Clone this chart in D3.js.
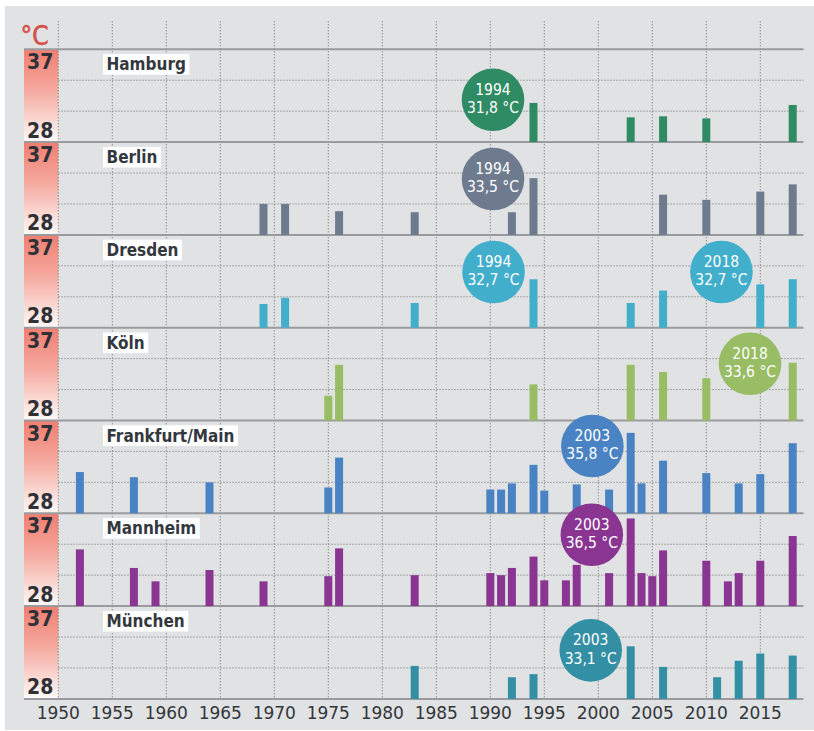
<!DOCTYPE html>
<html>
<head>
<meta charset="utf-8">
<script src="https://cdn.jsdelivr.net/npm/d3@7/dist/d3.min.js"></script>
<style>
  html, body { margin: 0; padding: 0; background: #ffffff; }
  svg { display: block; }
</style>
</head>
<body>
<svg id="chart" width="814" height="731"></svg>
<script>
// Hottest days per year (°C) for seven German cities, years with at least ~30 °C
const cities = ["Hamburg", "Berlin", "Dresden", "Köln", "Frankfurt/Main", "Mannheim", "München"];

const hamburgYears = [1994, 2003, 2006, 2010, 2018];
const hamburgTemps = [31.8, 30.4, 30.5, 30.3, 31.6];

const berlinYears = [1969, 1971, 1976, 1983, 1992, 1994, 2006, 2010, 2015, 2018];
const berlinTemps = [31.0, 31.0, 30.3, 30.2, 30.2, 33.5, 31.9, 31.4, 32.2, 32.9];

const dresdenYears = [1969, 1971, 1983, 1994, 2003, 2006, 2015, 2018];
const dresdenTemps = [30.3, 30.9, 30.4, 32.7, 30.4, 31.6, 32.2, 32.7];

const koelnYears = [1975, 1976, 1994, 2003, 2006, 2010, 2018];
const koelnTemps = [30.4, 33.4, 31.5, 33.4, 32.7, 32.1, 33.6];

const frankfurtYears = [1952, 1957, 1964, 1975, 1976, 1990, 1991, 1992, 1994, 1995, 1998, 2001, 2003, 2004, 2006, 2010, 2013, 2015, 2018];
const frankfurtTemps = [32.0, 31.5, 31.0, 30.5, 33.4, 30.3, 30.3, 30.9, 32.7, 30.2, 30.8, 30.3, 35.8, 30.9, 33.1, 31.9, 30.9, 31.8, 34.8];

const mannheimYears = [1952, 1957, 1959, 1964, 1969, 1975, 1976, 1983, 1990, 1991, 1992, 1994, 1995, 1997, 1998, 2001, 2003, 2004, 2005, 2006, 2010, 2012, 2013, 2015, 2018];
const mannheimTemps = [33.5, 31.7, 30.4, 31.5, 30.4, 30.9, 33.6, 31.0, 31.2, 31.0, 31.7, 32.8, 30.5, 30.5, 32.0, 31.2, 36.5, 31.2, 30.9, 33.4, 32.4, 30.4, 31.2, 32.4, 34.8];

const muenchenYears = [1983, 1992, 1994, 2003, 2006, 2011, 2013, 2015, 2018];
const muenchenTemps = [31.2, 30.1, 30.4, 33.1, 31.1, 30.1, 31.7, 32.4, 32.2];

const cityYears = [hamburgYears, berlinYears, dresdenYears, koelnYears, frankfurtYears, mannheimYears, muenchenYears];
const cityTemps = [hamburgTemps, berlinTemps, dresdenTemps, koelnTemps, frankfurtTemps, mannheimTemps, muenchenTemps];

// Record callouts: city index, record year, record value, and where the bubble sits (year, °C)
const recordCity  = [0, 1, 2, 2, 3, 4, 5, 6];
const recordYear  = [1994, 1994, 1994, 2018, 2018, 2003, 2003, 2003];
const recordTemp  = [31.8, 33.5, 32.7, 32.7, 33.6, 35.8, 36.5, 33.1];
const bubbleYear  = [1990.25, 1990.25, 1990.3, 2011.4, 2014.05, 1999.45, 1999.4, 1999.3];
const bubbleTemp  = [32.1, 33.42, 33.4, 33.4, 33.5, 34.53, 34.92, 32.71];

const xTicks = [1950, 1955, 1960, 1965, 1970, 1975, 1980, 1985, 1990, 1995, 2000, 2005, 2010, 2015];
const yTicks = [28, 31, 34, 37];

const palette = ["#2f8b63", "#6e7b8f", "#41aecb", "#98bd64", "#4a83c3", "#8a3592", "#338fa4"];

// ---- layout ----
const svg = d3.select("#chart");
const plotLeft = 58.3, plotRight = 803.5;
const bandLeft = 24;
const firstTop = 49.3, panelH = 92.8;
const gridTop = 21;
const lastBottom = firstTop + panelH * cities.length;
const condensed = "'DejaVu Sans Condensed', 'DejaVu Sans', sans-serif";

const x = d3.scaleLinear().domain([1950, 2019]).range([plotLeft, plotRight]);
const panelY = i => d3.scaleLinear().domain([28, 37])
  .range([firstTop + panelH * (i + 1), firstTop + panelH * i]);

// background
svg.append("rect").attr("x", 5).attr("y", 6).attr("width", 809).attr("height", 724)
  .attr("fill", "#e1e2e4");

// gradient used for the temperature strip at the left of each panel
const defs = svg.append("defs");
const grad = defs.append("linearGradient").attr("id", "heat")
  .attr("x1", 0).attr("y1", 0).attr("x2", 0).attr("y2", 1);
grad.append("stop").attr("offset", "0%").attr("stop-color", "#f07d70");
grad.append("stop").attr("offset", "45%").attr("stop-color", "#f5aaa0");
grad.append("stop").attr("offset", "100%").attr("stop-color", "#fffaf8");

cities.forEach((c, i) => {
  const y = panelY(i);
  svg.append("rect").attr("x", bandLeft).attr("y", y(37))
    .attr("width", plotLeft - bandLeft).attr("height", y(28) - y(37))
    .attr("fill", "url(#heat)");
});

// vertical dotted gridlines
svg.append("g").selectAll("line").data(xTicks).join("line")
  .attr("x1", d => x(d)).attr("x2", d => x(d))
  .attr("y1", gridTop).attr("y2", lastBottom)
  .attr("stroke", "#8a8b8d").attr("stroke-width", 1)
  .attr("stroke-dasharray", "1.4,1.6");

// horizontal dotted gridlines inside each panel
cities.forEach((c, i) => {
  const y = panelY(i);
  svg.append("g").selectAll("line").data(yTicks.filter(t => t > 28 && t < 37)).join("line")
    .attr("x1", plotLeft).attr("x2", plotRight)
    .attr("y1", d => y(d)).attr("y2", d => y(d))
    .attr("stroke", "#8a8b8d").attr("stroke-width", 1)
    .attr("stroke-dasharray", "1.4,1.6");
});

// solid separators between panels
const seps = d3.range(cities.length + 1).map(i => firstTop + panelH * i);
svg.append("g").selectAll("line").data(seps).join("line")
  .attr("x1", bandLeft).attr("x2", plotRight)
  .attr("y1", d => d).attr("y2", d => d)
  .attr("stroke", "#9a9b9e").attr("stroke-width", 2);

// bars
cities.forEach((c, i) => {
  const y = panelY(i);
  const rows = cityYears[i].map((yr, k) => ({ year: yr, temp: cityTemps[i][k] }));
  svg.append("g").selectAll("rect").data(rows).join("rect")
    .attr("x", d => x(d.year) - 4)
    .attr("width", 8)
    .attr("y", d => y(d.temp))
    .attr("height", d => y(28) - y(d.temp))
    .attr("fill", palette[i]);
});

// city labels on white boxes
cities.forEach((c, i) => {
  const top = firstTop + panelH * i;
  const g = svg.append("g");
  const t = g.append("text").attr("x", 106.5).attr("y", top + 21)
    .attr("font-family", condensed).attr("font-stretch", "condensed")
    .attr("font-weight", "bold").attr("font-size", 17)
    .attr("fill", "#33383e").text(c);
  const w = t.node().getComputedTextLength();
  g.insert("rect", "text").attr("x", 103).attr("y", top + 4.8)
    .attr("width", w + 7).attr("height", 20.6).attr("fill", "#ffffff");
});

// scale labels 37 / 28 on the strip
cities.forEach((c, i) => {
  const y = panelY(i);
  [37, 28].forEach(v => {
    svg.append("text").attr("x", 27)
      .attr("y", v === 37 ? y(37) + 20 : y(28) - 4.5)
      .attr("font-family", condensed).attr("font-stretch", "condensed")
      .attr("font-weight", "bold").attr("font-size", 21)
      .attr("fill", "#2e3136").text(v);
  });
});

// unit label
svg.append("text").attr("x", 20.5).attr("y", 45)
  .attr("font-family", condensed).attr("font-stretch", "condensed")
  .attr("font-size", 26)
  .attr("fill", "#d5524a").attr("stroke", "#d5524a").attr("stroke-width", 0.6)
  .text("°C");

// x axis labels
svg.append("g").selectAll("text").data(xTicks).join("text")
  .attr("x", d => x(d)).attr("y", 719.3)
  .attr("text-anchor", "middle")
  .attr("font-family", "'DejaVu Sans', sans-serif").attr("font-size", 17)
  .attr("fill", "#33363a").text(d => d);

// record bubbles: circle plus a two-line label (year, value)
const fmt = d3.format(".1f");
recordCity.forEach((ci, k) => {
  const y = panelY(ci);
  const cx = x(bubbleYear[k]), cy = y(bubbleTemp[k]);
  const g = svg.append("g");
  g.append("circle").attr("cx", cx).attr("cy", cy).attr("r", 31.3)
    .attr("fill", palette[ci]);
  const t = g.append("text").attr("text-anchor", "middle")
    .attr("font-family", condensed).attr("font-stretch", "condensed")
    .attr("font-size", 15.5).attr("fill", "#ffffff");
  t.append("tspan").attr("x", cx).attr("y", cy - 5).text(String(recordYear[k]));
  t.append("tspan").attr("x", cx).attr("y", cy + 13.2)
    .text(fmt(recordTemp[k]).replace(".", ",") + " °C");
});
</script>
</body>
</html>
